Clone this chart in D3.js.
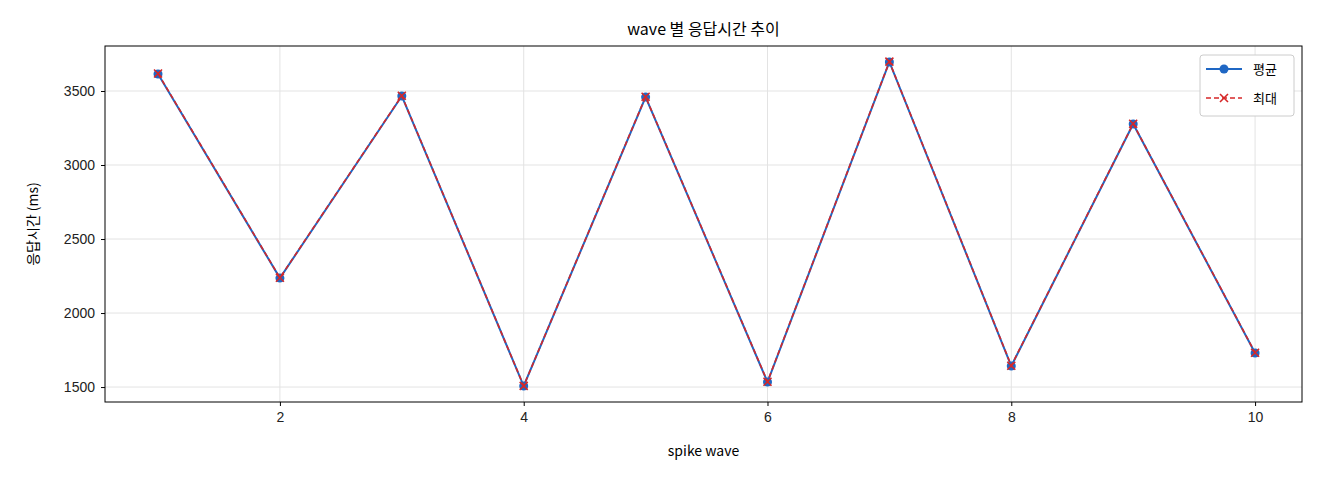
<!DOCTYPE html>
<html><head><meta charset="utf-8">
<script src="https://cdn.jsdelivr.net/npm/d3@7"></script>
<style>body{margin:0;background:#fff}svg{font-family:"Noto Sans CJK KR","DejaVu Sans",sans-serif}</style>
</head><body><svg id="c" width="1320" height="480"></svg>
<script>
const waves=[1,2,3,4,5,6,7,8,9,10];
const avgMs=[3615,2236,3466,1507,3459,1534,3696,1642,3277,1730];
const maxMs=[3618,2238,3468,1508,3461,1536,3698,1644,3279,1732];
const xTicks=[2,4,6,8,10];
const yTicks=[1500,2000,2500,3000,3500];
const svg=d3.select("#c");
const L=105,R=1302,T=46,B=402;
const x=d3.scaleLinear().domain([0.565,10.385]).range([L,R]);
const y=d3.scaleLinear().domain([1399,3804]).range([B,T]);
const g=svg.append("g");
g.selectAll(".gx").data(xTicks).join("line").attr("x1",d=>x(d)).attr("x2",d=>x(d)).attr("y1",T).attr("y2",B).attr("stroke","#e3e3e3");
g.selectAll(".gy").data(yTicks).join("line").attr("y1",d=>y(d)).attr("y2",d=>y(d)).attr("x1",L).attr("x2",R).attr("stroke","#e3e3e3");
const xa=svg.append("g").attr("transform",`translate(0,${B})`).call(d3.axisBottom(x).tickValues(xTicks).tickFormat(d3.format("d")).tickSize(4).tickPadding(6));
const ya=svg.append("g").attr("transform",`translate(${L},0)`).call(d3.axisLeft(y).tickValues(yTicks).tickFormat(d3.format("d")).tickSize(4).tickPadding(6));
[xa,ya].forEach(a=>{a.select(".domain").remove();a.selectAll("text").attr("font-size",14).attr("fill","#222");});
svg.append("rect").attr("x",L).attr("y",T).attr("width",R-L).attr("height",B-T).attr("fill","none").attr("stroke","#000");
const line=d3.line().x((d,i)=>x(waves[i])).y(d=>y(d));
svg.append("path").datum(avgMs).attr("d",line).attr("fill","none").attr("stroke","#1f67c4").attr("stroke-width",2);
svg.selectAll(".pa").data(avgMs).join("circle").attr("cx",(d,i)=>x(waves[i])).attr("cy",d=>y(d)).attr("r",4.5).attr("fill","#1f67c4");
svg.append("path").datum(maxMs).attr("d",line).attr("fill","none").attr("stroke","#d62728").attr("stroke-width",1.6).attr("stroke-dasharray","5,3");
const cross=(sel,cx,cy,s,c)=>{sel.append("path").attr("d",`M${cx-s},${cy-s}L${cx+s},${cy+s}M${cx-s},${cy+s}L${cx+s},${cy-s}`).attr("stroke",c).attr("stroke-width",1.6);};
maxMs.forEach((d,i)=>cross(svg,x(waves[i]),y(d),4,"#d62728"));
svg.append("text").attr("x",(L+R)/2).attr("y",35).attr("text-anchor","middle").attr("font-size",16).text("wave 별 응답시간 추이");
svg.append("text").attr("x",(L+R)/2).attr("y",456).attr("text-anchor","middle").attr("font-size",14).text("spike wave");
svg.append("text").attr("transform",`translate(38,${(T+B)/2}) rotate(-90)`).attr("text-anchor","middle").attr("font-size",14).text("응답시간 (ms)");
const lg=svg.append("g").attr("transform","translate(1200,55)");
lg.append("rect").attr("width",94).attr("height",61).attr("rx",3).attr("fill","#fff").attr("stroke","#ccc");
lg.append("line").attr("x1",6).attr("x2",42).attr("y1",14).attr("y2",14).attr("stroke","#1f67c4").attr("stroke-width",2);
lg.append("circle").attr("cx",24).attr("cy",14).attr("r",4.5).attr("fill","#1f67c4");
lg.append("text").attr("x",53).attr("y",19).attr("font-size",13).text("평균");
lg.append("line").attr("x1",6).attr("x2",42).attr("y1",43).attr("y2",43).attr("stroke","#d62728").attr("stroke-width",1.6).attr("stroke-dasharray","5,3");
cross(lg,24,43,4,"#d62728");
lg.append("text").attr("x",53).attr("y",48).attr("font-size",13).text("최대");
</script></body></html>
